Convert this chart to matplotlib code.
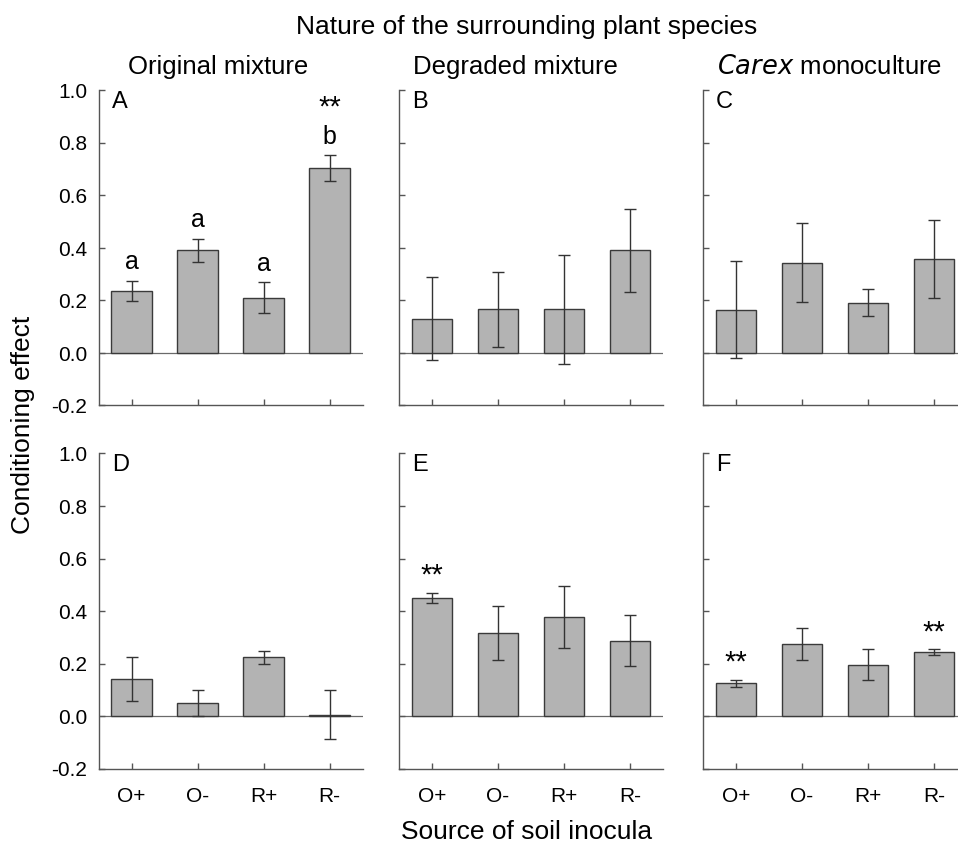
import matplotlib
matplotlib.use("Agg")
import matplotlib.pyplot as plt
import numpy as np

plt.rcParams['font.family'] = ['Liberation Sans', 'DejaVu Sans']
plt.rcParams['axes.unicode_minus'] = False

categories = ["O+", "O-", "R+", "R-"]
panel_letters = ["A", "B", "C", "D", "E", "F"]
column_titles = ["Original mixture", "Degraded mixture", "$\\it{Carex}$ monoculture"]
yticks = [-0.2, 0.0, 0.2, 0.4, 0.6, 0.8, 1.0]

# mean values and standard errors for each panel
vals_A = [0.236, 0.391, 0.211, 0.705]
err_A = [0.039, 0.044, 0.058, 0.048]
vals_B = [0.131, 0.166, 0.166, 0.391]
err_B = [0.159, 0.144, 0.208, 0.159]
vals_C = [0.165, 0.344, 0.192, 0.357]
err_C = [0.185, 0.151, 0.050, 0.148]
vals_D = [0.141, 0.050, 0.223, 0.005]
err_D = [0.085, 0.050, 0.025, 0.093]
vals_E = [0.451, 0.316, 0.377, 0.286]
err_E = [0.019, 0.102, 0.118, 0.097]
vals_F = [0.124, 0.274, 0.196, 0.243]
err_F = [0.013, 0.062, 0.058, 0.011]

letters_A = ["a", "a", "a", "b"]
stars_A = ["", "", "", "**"]
stars_E = ["**", "", "", ""]
stars_F = ["**", "", "", "**"]

values = [vals_A, vals_B, vals_C, vals_D, vals_E, vals_F]
errors = [err_A, err_B, err_C, err_D, err_E, err_F]
stars = [stars_A, None, None, None, stars_E, stars_F]

W, H = 958, 846
fig = plt.figure(figsize=(W / 100, H / 100), dpi=100)

lefts = [98.5 / W, 399 / W, 703 / W]
width = 264 / W
bottoms = [1 - 405.5 / H, 1 - 768.5 / H]
height = 315 / H

spine_c = '#555555'
x = np.arange(len(categories))
for i in range(6):
    r, c = divmod(i, 3)
    ax = fig.add_axes([lefts[c], bottoms[r], width, height])
    ax.bar(x, values[i], width=0.62, color='#b3b3b3', edgecolor='#3a3a3a',
           linewidth=1.0, zorder=2)
    ax.errorbar(x, values[i], yerr=errors[i], fmt='none', ecolor='#333333',
                elinewidth=1.0, capsize=4, capthick=1.0, zorder=3)
    ax.axhline(0, color='#6a6a6a', lw=0.9, zorder=1)
    ax.set_xlim(-0.5, 3.5)
    ax.set_ylim(-0.2, 1.0)
    ax.set_yticks(yticks)
    ax.set_xticks(x)
    for s in ['top', 'right']:
        ax.spines[s].set_visible(False)
    for s in ['left', 'bottom']:
        ax.spines[s].set_color(spine_c)
        ax.spines[s].set_linewidth(1.0)
    ax.tick_params(direction='in', length=4, width=1.0, color=spine_c,
                   labelsize=15)
    ax.tick_params(axis='y', pad=8)
    ax.tick_params(axis='x', pad=13)
    if c == 0:
        ax.set_yticklabels([f"{t:.1f}" for t in yticks])
    else:
        ax.set_yticklabels([])
    if r == 1:
        ax.set_xticklabels(categories)
    else:
        ax.set_xticklabels([])
    ax.text(-0.30, 0.935, panel_letters[i], fontsize=17, va='baseline', ha='left')
    if stars[i] is not None:
        for j, s in enumerate(stars[i]):
            if not s:
                continue
            top = values[i][j] + errors[i][j]
            if i == 0:
                yb = 0.905
            else:
                yb = top + 0.035
            ax.text(j, yb, s, fontsize=21, ha='center', va='baseline')
    if i == 0:
        for j, l in enumerate(letters_A):
            top = values[i][j] + errors[i][j]
            ax.text(j, top + 0.045, l, fontsize=18, ha='center', va='baseline')

fig.text(527 / W, 1 - 34 / H, "Nature of the surrounding plant species",
         fontsize=19, ha='center', va='baseline')
title_x = [128, 413, 717]
for c in range(3):
    fig.text(title_x[c] / W, 1 - 74 / H, column_titles[c], fontsize=18.5,
             ha='left', va='baseline')
fig.text(23 / W, 1 - 425 / H, "Conditioning effect", fontsize=19,
         rotation=90, ha='center', va='center')
fig.text(527 / W, 7 / H, "Source of soil inocula", fontsize=19,
         ha='center', va='baseline')

fig.savefig("out.png", dpi=100)
